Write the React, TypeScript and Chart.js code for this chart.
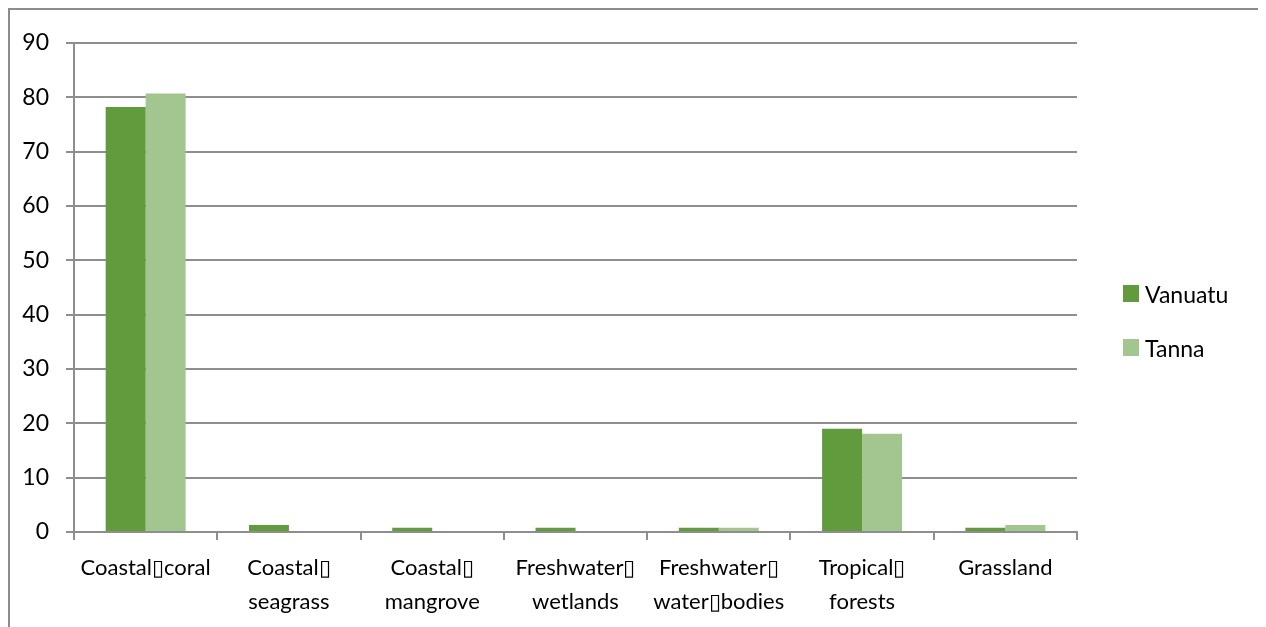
import React, { useEffect, useRef } from "react";
import { Chart, registerables } from "chart.js";

Chart.register(...registerables);

const BOX = "\u25AF";

const categories: (string | string[])[] = [
  `Coastal${BOX}coral`,
  [`Coastal${BOX}`, "seagrass"],
  [`Coastal${BOX}`, "mangrove"],
  [`Freshwater${BOX}`, "wetlands"],
  [`Freshwater${BOX}`, `water${BOX}bodies`],
  [`Tropical${BOX}`, "forests"],
  "Grassland",
];

const vanuatu = [78.2, 1.3, 0.8, 0.8, 0.8, 19.0, 0.8];
const tanna = [80.7, 0, 0, 0, 0.8, 18.1, 1.3];

const seriesNames = ["Vanuatu", "Tanna"];
const seriesColors = ["#629a3e", "#a3c58f"];

const yMin = 0;
const yMax = 90;
const yStep = 10;

const FONT = "Lato, 'Open Sans', sans-serif";
const GRID = "#8e8e8e";

const legendPlugin = {
  id: "sideLegend",
  afterDraw(chart: any) {
    const ctx = chart.ctx;
    const x = chart.chartArea.right + 46;
    const y0 = 275;
    const gap = 54;
    ctx.save();
    ctx.font = `23px ${FONT}`;
    ctx.textBaseline = "middle";
    ctx.textAlign = "left";
    chart.data.datasets.forEach((ds: any, i: number) => {
      const y = y0 + i * gap;
      ctx.fillStyle = ds.backgroundColor;
      ctx.fillRect(x, y, 16, 17);
      ctx.fillStyle = "#000";
      ctx.fillText(ds.label, x + 22, y + 11);
    });
    ctx.restore();
  },
};

export default function App() {
  const ref = useRef<HTMLCanvasElement>(null);
  useEffect(() => {
    document.documentElement.style.overflow = "hidden";
    if (!ref.current) return;
    const chart = new Chart(ref.current, {
      type: "bar",
      data: {
        labels: categories,
        datasets: [
          {
            label: seriesNames[0],
            data: vanuatu,
            backgroundColor: seriesColors[0],
            categoryPercentage: 0.558,
            barPercentage: 1,
          },
          {
            label: seriesNames[1],
            data: tanna,
            backgroundColor: seriesColors[1],
            categoryPercentage: 0.558,
            barPercentage: 1,
          },
        ],
      },
      options: {
        responsive: false,
        animation: false,
        layout: { padding: { top: 33, right: 185, left: 0, bottom: 0 } },
        plugins: {
          legend: { display: false },
          tooltip: { enabled: false },
        },
        scales: {
          x: {
            afterFit: (s: any) => {
              s.height = 95;
            },
            grid: {
              display: true,
              offset: true,
              drawOnChartArea: false,
              drawTicks: true,
              tickLength: 8,
              color: GRID,
              lineWidth: 2,
            },
            border: { display: true, color: GRID, width: 2 },
            ticks: {
              color: "#000",
              padding: 11,
              maxRotation: 0,
              autoSkip: false,
              font: { family: FONT, size: 22, lineHeight: 1.545 },
            },
          },
          y: {
            min: yMin,
            max: yMax,
            afterFit: (s: any) => {
              s.width = 64;
            },
            grid: {
              color: GRID,
              lineWidth: 2,
              tickLength: 8,
            },
            border: { display: true, color: GRID, width: 2 },
            ticks: {
              stepSize: yStep,
              color: "#000",
              padding: 17,
              font: { family: FONT, size: 23 },
            },
          },
        },
      },
      plugins: [legendPlugin],
    });
    return () => chart.destroy();
  }, []);
  return (
    <div
      style={{
        width: 1252,
        height: 620,
        border: "2px solid #8c8c8c",
        background: "#fff",
      }}
    >
      <canvas ref={ref} width={1252} height={617} style={{ display: "block" }} />
    </div>
  );
}
